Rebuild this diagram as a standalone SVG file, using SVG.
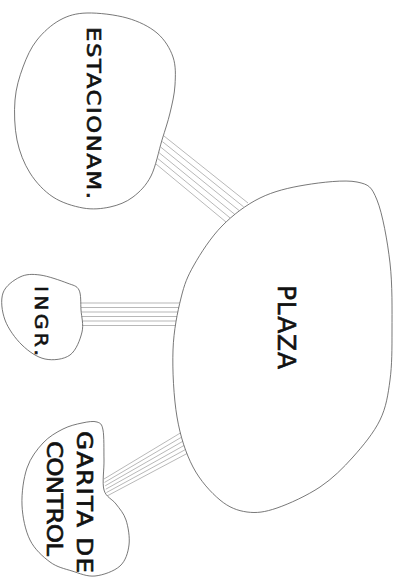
<svg xmlns="http://www.w3.org/2000/svg" width="400" height="578" viewBox="0 0 400 578">
<style>
.blob{fill:#fff;stroke:#555;stroke-width:0.8}
.con line{stroke:#9a9a9a;stroke-width:0.7}
.lbl{font-family:"DejaVu Sans","Liberation Sans",sans-serif;fill:#111;stroke:#111;stroke-width:0.6;text-anchor:middle}
</style>
<rect width="400" height="578" fill="#fff"/>
<g id="connectors" class="con">
<g id="c-estac-plaza">
<line x1="164" y1="136" x2="248" y2="203"/>
<line x1="162.4" y1="141.6" x2="243.6" y2="206.8"/>
<line x1="160.8" y1="147.2" x2="239.2" y2="210.6"/>
<line x1="159.2" y1="152.8" x2="234.8" y2="214.4"/>
<line x1="157.6" y1="158.4" x2="230.4" y2="218.2"/>
<line x1="156" y1="164" x2="226" y2="222"/>
</g>
<g id="c-ingr-plaza">
<line x1="81" y1="303" x2="180" y2="303"/>
<line x1="81" y1="307.5" x2="179" y2="307.5"/>
<line x1="81.5" y1="312" x2="178" y2="312"/>
<line x1="81.5" y1="316.5" x2="177.5" y2="316.5"/>
<line x1="82" y1="321" x2="177" y2="321"/>
<line x1="82" y1="325.5" x2="176" y2="325.5"/>
</g>
<g id="c-garita-plaza">
<line x1="104" y1="479" x2="182" y2="432"/>
<line x1="104.6" y1="482.4" x2="183.2" y2="436.2"/>
<line x1="105.2" y1="485.8" x2="184.4" y2="440.4"/>
<line x1="105.8" y1="489.2" x2="185.6" y2="444.6"/>
<line x1="106.4" y1="492.6" x2="186.8" y2="448.8"/>
<line x1="107" y1="496" x2="188" y2="453"/>
</g>
</g>
<g id="estacionam">
<path class="blob" d="M87,13 C98.2,12.7 115.3,14.7 127,18 S149.3,26.5 157,33 S170,48.3 173,57 S175.5,75.7 175,85 S172.2,103.8 170,113 S165.2,129.5 162,140 S155.8,166.5 151,176 S139.8,191.8 133,197 S118.3,205.2 110,207 S92.5,209.7 83,208 S61.8,202.8 53,197 S36,182.5 30,173 S19.5,152.2 17,140 S14,112.2 15,100 S19.3,77 23,67 S30.8,47.8 37,40 S51.7,24.5 60,20 S75.8,13.3 87,13 Z"/>
<text class="lbl" font-size="19" textLength="143.3" lengthAdjust="spacing" transform="translate(87,113) rotate(90) scale(1.2,1)">ESTACIONAM.</text>
</g>
<g id="plaza">
<path class="blob" d="M357,182 C369,184.5 371.5,186.5 377,200 S387.5,241.3 390,263 S392,310.5 392,330 S392,365 390,380 S386.2,407.2 380,420 S363,445.8 353,457 S332.7,478.5 320,487 S289.2,503.8 277,508 S256.5,513.3 247,512 S229,507.5 220,500 S200.2,480.8 193,467 S180.3,436.5 177,417 S172.3,369.8 173,350 S177.5,312.2 181,298 S187.2,277 194,265 S211,237.2 222,226 S246.2,204.8 260,198 S288.8,187.7 305,185 S345,179.5 357,182 Z"/>
<text class="lbl" font-size="25" textLength="84" lengthAdjust="spacing" transform="translate(278,327) rotate(90)">PLAZA</text>
</g>
<g id="ingr">
<path class="blob" d="M20,277 C26.2,274 32.2,274 40,275 S60.5,280.5 67,283 S76.7,285.5 79,290 S80.5,303 81,310 S83.8,324.5 82,332 S76.2,350.5 70,355 S53,360.7 45,359 S28.7,351.5 22,345 S8.2,328.7 5,320 S0.5,300.2 3,293 S13.8,280 20,277 Z"/>
<text class="lbl" font-size="17" textLength="58.3" lengthAdjust="spacing" transform="translate(35,321) rotate(90) scale(1.2,1)">INGR.</text>
</g>
<g id="garita">
<path class="blob" d="M82,423 C87.7,421.8 93.5,420.8 97,422 S101.8,423.7 103,430 S103.8,450 104,460 S102,482.7 104,490 S112.3,499 116,504 S123.8,513.2 126,520 S130,537.3 129,545 S125.7,560.8 120,566 S103,575.2 95,576 S79.5,573.3 72,571 S57,567.2 50,562 S34.7,549.5 30,540 S22.5,517 22,505 S23.5,478.3 27,468 S37,449.5 43,443 S56.5,432.3 63,429 S76.3,424.2 82,423 Z"/>
<text class="lbl" font-size="20.5" textLength="118.3" lengthAdjust="spacing" transform="translate(77,502) rotate(90) scale(1.2,1)">GARITA DE</text>
<text class="lbl" font-size="20.5" textLength="95.8" lengthAdjust="spacing" transform="translate(47,498.5) rotate(90) scale(1.2,1)">CONTROL</text>
</g>
</svg>
